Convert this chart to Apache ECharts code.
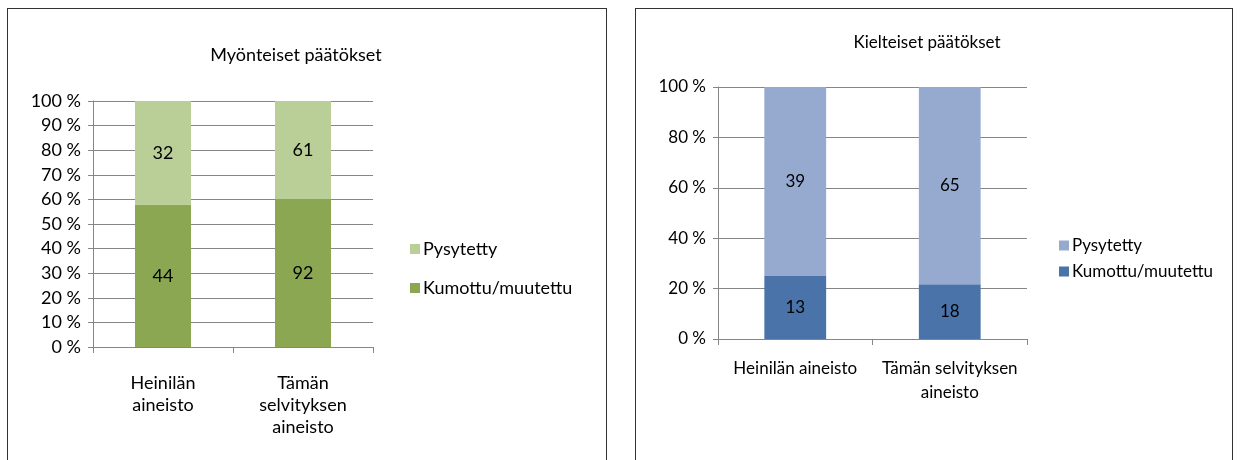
<!DOCTYPE html>
<html>
<head>
<meta charset="utf-8">
<script src="https://cdn.jsdelivr.net/npm/echarts@6/dist/echarts.min.js"></script>
<style>
  body { margin: 0; background: #fff; width: 1241px; height: 460px; overflow: hidden; position: relative; }
  .panel { position: absolute; top: 8px; height: 470px; border: 1px solid #333; border-bottom: none; }
  #left { left: 7px; width: 598px; }
  #right { left: 635px; width: 596px; }
</style>
</head>
<body>
<div id="left" class="panel"></div>
<div id="right" class="panel"></div>
<script>
// Myönteiset päätökset (counts)
const posCategories = ['Heinilän\naineisto', 'Tämän\nselvityksen\naineisto'];
const posKumottu = [44, 92];
const posPysytetty = [32, 61];

// Kielteiset päätökset (counts)
const negCategories = ['Heinilän aineisto', 'Tämän selvityksen\naineisto'];
const negKumottu = [13, 18];
const negPysytetty = [39, 65];

const seriesNames = ['Kumottu/muutettu', 'Pysytetty'];
const FONT = 'Lato, "Open Sans", sans-serif';

const share = (a, b) => a.map((v, i) => v / (v + b[i]) * 100);

const makeOption = (cfg) => {
  const labelStyle = (counts) => ({
    show: true,
    position: 'inside',
    color: '#000',
    fontSize: cfg.fontSize,
    fontFamily: FONT,
    formatter: (p) => counts[p.dataIndex]
  });
  return {
    animation: false,
    textStyle: { fontFamily: FONT },
    title: {
      text: cfg.title,
      left: cfg.titleX,
      top: cfg.titleTop,
      textAlign: 'center',
      textStyle: { fontSize: cfg.fontSize, fontWeight: 'normal', color: '#000', fontFamily: FONT }
    },
    legend: {
      orient: 'vertical',
      left: cfg.legendLeft,
      top: cfg.legendTop,
      itemGap: cfg.legendGap,
      itemWidth: 10,
      itemHeight: 10,
      icon: 'rect',
      data: ['Pysytetty', 'Kumottu/muutettu'],
      textStyle: { fontSize: cfg.fontSize, color: '#000', fontFamily: FONT, padding: [0, 0, 0, -2] }
    },
    grid: cfg.grid,
    xAxis: {
      type: 'category',
      data: cfg.categories,
      axisLine: { lineStyle: { color: '#868686' } },
      axisTick: { show: true, length: 6, lineStyle: { color: '#868686' } },
      axisLabel: {
        color: '#000',
        fontSize: cfg.fontSize,
        fontFamily: FONT,
        margin: cfg.xLabelMargin,
        lineHeight: cfg.lineHeight,
        interval: 0
      }
    },
    yAxis: {
      type: 'value',
      min: 0,
      max: 100,
      interval: cfg.interval,
      axisLine: { show: true, lineStyle: { color: '#868686' } },
      axisTick: { show: true, length: 5, lineStyle: { color: '#868686' } },
      splitLine: { lineStyle: { color: '#868686' } },
      axisLabel: {
        color: '#000',
        fontSize: cfg.fontSize,
        fontFamily: FONT,
        margin: 12,
        formatter: (v) => v + ' %'
      }
    },
    series: [
      {
        name: seriesNames[0],
        type: 'bar',
        stack: 'total',
        barWidth: '40%',
        itemStyle: { color: cfg.colors[0] },
        label: labelStyle(cfg.kumottu),
        data: share(cfg.kumottu, cfg.pysytetty)
      },
      {
        name: seriesNames[1],
        type: 'bar',
        stack: 'total',
        barWidth: '40%',
        itemStyle: { color: cfg.colors[1] },
        label: labelStyle(cfg.pysytetty),
        data: share(cfg.pysytetty, cfg.kumottu)
      }
    ]
  };
};

const leftChart = echarts.init(document.getElementById('left'));
leftChart.setOption(makeOption({
  title: 'Myönteiset päätökset',
  titleX: 283,
  titleTop: 32,
  fontSize: 18,
  lineHeight: 22,
  categories: posCategories,
  kumottu: posKumottu,
  pysytetty: posPysytetty,
  colors: ['#8CA752', '#BACF98'],
  grid: { left: 85, top: 92, width: 280, height: 246 },
  interval: 10,
  xLabelMargin: 25,
  legendLeft: 397,
  legendTop: 226,
  legendGap: 21
}));

const rightChart = echarts.init(document.getElementById('right'));
rightChart.setOption(makeOption({
  title: 'Kielteiset päätökset',
  titleX: 286,
  titleTop: 20,
  fontSize: 17,
  lineHeight: 24,
  categories: negCategories,
  kumottu: negKumottu,
  pysytetty: negPysytetty,
  colors: ['#4A74A9', '#96AAD0'],
  grid: { left: 82, top: 78, width: 309, height: 252 },
  interval: 20,
  xLabelMargin: 18,
  legendLeft: 418,
  legendTop: 223,
  legendGap: 9
}));
</script>
</body>
</html>
